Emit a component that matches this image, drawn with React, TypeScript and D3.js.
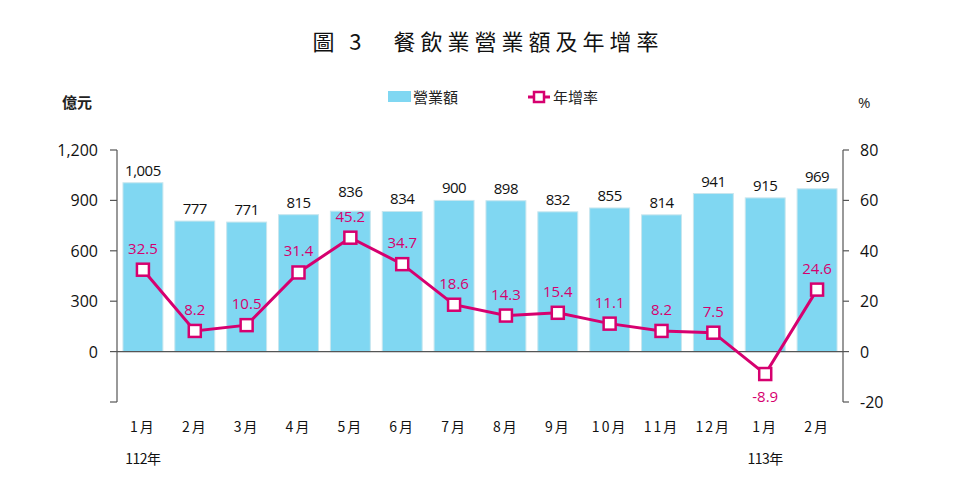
import React from "react";
import * as d3 from "d3";

const categories = ["1月","2月","3月","4月","5月","6月","7月","8月","9月","10月","11月","12月","1月","2月"];
const yearLabels = ["112年","","","","","","","","","","","","113年",""];
const revenue = [1005,777,771,815,836,834,900,898,832,855,814,941,915,969];
const growth = [32.5,8.2,10.5,31.4,45.2,34.7,18.6,14.3,15.4,11.1,8.2,7.5,-8.9,24.6];
const leftTicks = [0,300,600,900,1200];
const rightTicks = [-20,0,20,40,60,80];

const W = 959, H = 495;
const left = 117, right = 843, top = 150, bottom = 402;
const FONT = "'Open Sans', 'Noto Sans CJK TC', sans-serif";
const CJK = "'Noto Sans CJK TC', sans-serif";
const BAR = "#80d7f2";
const LINE = "#d6006f";
// extra lift for bar labels that would collide with line labels
const barLabelLift: Record<number, number> = { 4: 7 };

export default function App() {
  const x = d3.scaleBand<number>().domain(d3.range(categories.length)).range([left, right]).paddingInner(0.23).paddingOuter(0.115);
  const yL = d3.scaleLinear().domain([-300, 1200]).range([bottom, top]);
  const yR = d3.scaleLinear().domain([-20, 80]).range([bottom, top]);
  const cx = (i: number) => (x(i) as number) + x.bandwidth() / 2;
  const line = d3.line<number>().x((_, i) => cx(i)).y((d) => yR(d));
  const fmt = d3.format(",");

  return (
    <svg width={W} height={H} style={{ position: "absolute", left: 0, top: 0, background: "#fff" }}>
      <text x={488} y={50} textAnchor="middle" fontFamily={CJK} fontSize={22} letterSpacing={5} fill="#111">圖 3　餐飲業營業額及年增率</text>

      {/* legend */}
      <rect x={388} y={91} width={23} height={11} fill={BAR} />
      <text x={413} y={103} fontFamily={CJK} fontSize={15} fill="#222">營業額</text>
      <line x1={528} x2={550} y1={97} y2={97} stroke={LINE} strokeWidth={3} />
      <rect x={534} y={92} width={10} height={10} fill="#fff" stroke={LINE} strokeWidth={2.5} />
      <text x={553} y={103} fontFamily={CJK} fontSize={15} fill="#222">年增率</text>

      <text x={62} y={108} fontFamily={CJK} fontSize={15} fontWeight={700} fill="#222">億元</text>
      <text x={858} y={108} fontFamily={FONT} fontSize={15} fill="#222">%</text>

      {/* bars */}
      {revenue.map((v, i) => (
        <rect key={i} x={x(i)} y={yL(v)} width={x.bandwidth()} height={yL(0) - yL(v)} fill={BAR} stroke="#c8e6ee" strokeWidth={1} />
      ))}
      {revenue.map((v, i) => (
        <text key={i} x={cx(i)} y={yL(v) - 7 - (barLabelLift[i] ?? 0)} textAnchor="middle" fontFamily={FONT} fontSize={15} fill="#111" letterSpacing={-0.5}>{fmt(v)}</text>
      ))}

      {/* zero line */}
      <line x1={left} x2={right} y1={yL(0)} y2={yL(0)} stroke="#555" strokeWidth={1.2} />

      {/* left axis */}
      <line x1={left} x2={left} y1={top} y2={bottom} stroke="#555" strokeWidth={1.2} />
      {[...leftTicks, -300].map((t) => (
        <line key={t} x1={left - 7} x2={left} y1={yL(t)} y2={yL(t)} stroke="#555" strokeWidth={1.2} />
      ))}
      {leftTicks.map((t) => (
        <text key={t} x={98} y={yL(t) + 6} textAnchor="end" fontFamily={FONT} fontSize={16} fill="#111">{fmt(t)}</text>
      ))}

      {/* right axis */}
      <line x1={right} x2={right} y1={top} y2={bottom} stroke="#555" strokeWidth={1.2} />
      {rightTicks.map((t) => (
        <line key={t} x1={right} x2={right + 6} y1={yR(t)} y2={yR(t)} stroke="#555" strokeWidth={1.2} />
      ))}
      {rightTicks.map((t) => (
        <text key={t} x={860} y={yR(t) + 6} fontFamily={FONT} fontSize={16} fill="#111">{t}</text>
      ))}

      {/* line */}
      <path d={line(growth) ?? ""} fill="none" stroke={LINE} strokeWidth={3} />
      {growth.map((v, i) => (
        <rect key={i} x={cx(i) - 6} y={yR(v) - 6} width={12} height={12} fill="#fff" stroke={LINE} strokeWidth={2.5} />
      ))}
      {growth.map((v, i) => (
        <text key={i} x={cx(i)} y={v < 0 ? yR(v) + 28 : yR(v) - 16} textAnchor="middle" fontFamily={FONT} fontSize={15} fill={LINE}>{v.toFixed(1)}</text>
      ))}

      {/* x labels */}
      {categories.map((c, i) => (
        <text key={i} x={cx(i)} y={432} textAnchor="middle" fontFamily={CJK} fontSize={14} fill="#111" letterSpacing={2}>{c}</text>
      ))}
      {yearLabels.map((c, i) => c ? (
        <text key={i} x={cx(i)} y={464} textAnchor="middle" fontFamily={CJK} fontSize={14} fill="#111" letterSpacing={-0.5}>{c}</text>
      ) : null)}
    </svg>
  );
}
